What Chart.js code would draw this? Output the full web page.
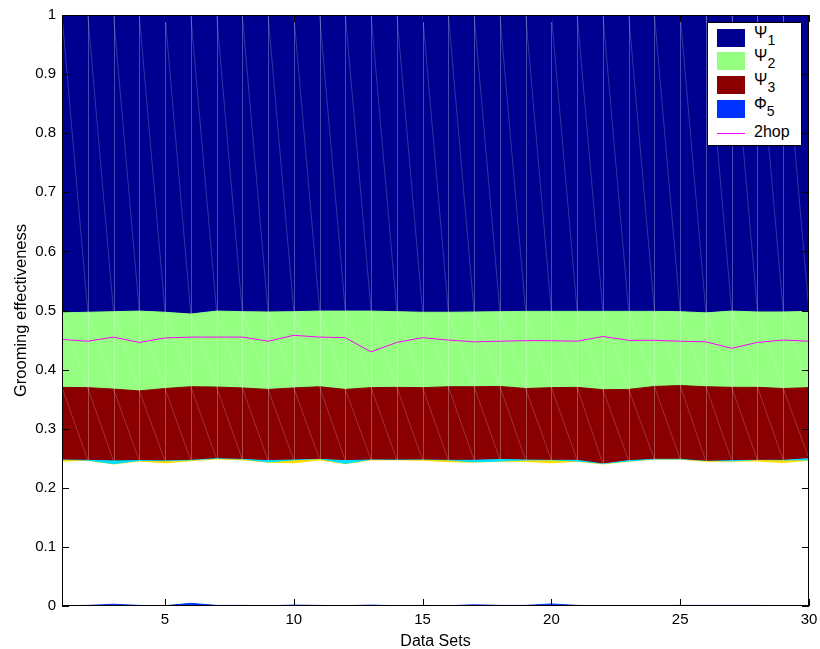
<!DOCTYPE html>
<html>
<head>
<meta charset="utf-8">
<script src="https://cdn.jsdelivr.net/npm/chart.js@4.4.1/dist/chart.umd.min.js"></script>
<style>
  body { margin: 0; background: #fff; }
  #wrap { position: relative; width: 820px; height: 649px; }
  #legend { position: absolute; left: 707px; top: 22px; width: 95px; height: 124px; background: #fff; border: 1px solid #000; box-sizing: border-box; font-family: "Liberation Sans", Arial, sans-serif; }
  .sw { position: absolute; left: 9px; width: 28px; height: 18px; }
  .lab { position: absolute; left: 46px; font-size: 16px; line-height: 16px; color: #000; white-space: nowrap; }
  .lab span { position: relative; top: 7px; font-size: 14px; }
</style>
</head>
<body>
<div id="wrap">
  <canvas id="chart" width="820" height="649"></canvas>
  <div id="legend"></div>
</div>
<script>
// x positions (data sets 1..30)
const dataSets = [1,2,3,4,5,6,7,8,9,10,11,12,13,14,15,16,17,18,19,20,21,22,23,24,25,26,27,28,29,30];
const xTicks = [5, 10, 15, 20, 25, 30];
const yTicks = [0, 0.1, 0.2, 0.3, 0.4, 0.5, 0.6, 0.7, 0.8, 0.9, 1];

// upper edge of each filled layer
const psi1 = [1,1,1,1,1,1,1,1,1,1,1,1,1,1,1,1,1,1,1,1,1,1,1,1,1,1,1,1,1,1];
const psi2 = [0.496,0.497,0.498,0.499,0.497,0.494,0.499,0.498,0.4975,0.498,
              0.499,0.499,0.499,0.498,0.497,0.497,0.4975,0.498,0.4985,0.4985,
              0.4985,0.4985,0.4985,0.4985,0.498,0.496,0.499,0.4975,0.4975,0.4985];
const psi3 = [0.370,0.3695,0.367,0.364,0.368,0.371,0.3705,0.369,0.3665,0.369,
              0.371,0.3665,0.3695,0.370,0.3695,0.371,0.371,0.3715,0.368,0.3695,
              0.370,0.366,0.3665,0.3715,0.373,0.371,0.370,0.370,0.368,0.3695];
const cyanTop = [0.247,0.2465,0.2455,0.246,0.2455,0.2465,0.2493,0.248,0.246,0.247,
                 0.248,0.246,0.247,0.247,0.247,0.2465,0.2465,0.248,0.247,0.2465,
                 0.2465,0.2403,0.246,0.2482,0.2482,0.2448,0.2459,0.2465,0.2465,0.2493];
const yellowTop = [0.2465,0.245,0.239,0.2445,0.244,0.2455,0.248,0.247,0.242,0.2455,
                   0.2475,0.2395,0.2465,0.246,0.2465,0.2455,0.242,0.2435,0.2455,0.2455,
                   0.2435,0.2395,0.2435,0.247,0.247,0.2445,0.2437,0.246,0.2455,0.2455];
const whiteTop = [0.2435,0.2445,0.2385,0.2435,0.2405,0.244,0.247,0.2455,0.2415,0.2405,
                  0.2455,0.239,0.2455,0.2455,0.245,0.2425,0.2415,0.243,0.243,0.2405,
                  0.243,0.2386,0.243,0.2465,0.2465,0.243,0.2432,0.2437,0.241,0.245];
const phi5 = [0.0005,0.001,0.003,0.001,0.0005,0.0045,0.001,0.001,0.0005,0.0015,
              0.001,0.0005,0.0015,0.0005,0.001,0.0005,0.002,0.001,0.001,0.0035,
              0.001,0.0005,0.0005,0.0005,0.001,0.001,0.001,0.001,0.0005,0.0005];
const twoHop = [0.451,0.448,0.455,0.446,0.4535,0.455,0.455,0.455,0.448,0.458,
                0.455,0.454,0.430,0.446,0.454,0.450,0.447,0.448,0.449,0.449,
                0.448,0.456,0.4495,0.4495,0.448,0.447,0.436,0.446,0.450,0.448];

const legendItems = [
  { html: 'Ψ<span>1</span>', color: '#000090', type: 'box' },
  { html: 'Ψ<span>2</span>', color: '#94ff80', type: 'box' },
  { html: 'Ψ<span>3</span>', color: '#8a0000', type: 'box' },
  { html: 'Φ<span>5</span>', color: '#0033ff', type: 'box' },
  { html: '2hop', color: '#ff00ff', type: 'line' }
];

function pts(arr) {
  return dataSets.map((x, i) => ({ x: x, y: arr[i] }));
}

function area(label, arr, color) {
  return {
    label: label,
    data: pts(arr),
    backgroundColor: color,
    borderColor: color,
    borderWidth: 1,
    pointRadius: 0,
    fill: 'origin',
    tension: 0
  };
}

// faint mesh lines like the matlab render, and the axes box with inward ticks
const framePlugin = {
  id: 'frame',
  beforeDatasetDraw(chart, args) {
    if (args.index !== 0) return;
    const ctx = chart.ctx, xs = chart.scales.x, ys = chart.scales.y, a = chart.chartArea;
    ctx.save();
    ctx.beginPath();
    ctx.rect(a.left, a.top, a.right - a.left, a.bottom - a.top);
    ctx.clip();
    ctx.lineWidth = 1;
    ctx.strokeStyle = 'rgba(255,255,255,0.28)';
    dataSets.forEach((x, i) => {
      const px = Math.round(xs.getPixelForValue(x)) + 0.5;
      ctx.beginPath();
      ctx.moveTo(px, a.top);
      ctx.lineTo(px, ys.getPixelForValue(cyanTop[i]));
      ctx.stroke();
    });
    ctx.strokeStyle = 'rgba(255,255,255,0.2)';
    [[psi1, psi2], [psi2, psi3], [psi3, cyanTop]].forEach(b => {
      for (let i = 0; i < dataSets.length - 1; i++) {
        ctx.beginPath();
        ctx.moveTo(xs.getPixelForValue(dataSets[i]), ys.getPixelForValue(b[0][i]));
        ctx.lineTo(xs.getPixelForValue(dataSets[i + 1]), ys.getPixelForValue(b[1][i + 1]));
        ctx.stroke();
      }
    });
    ctx.restore();
  },
  afterDraw(chart) {
    const ctx = chart.ctx, xs = chart.scales.x, ys = chart.scales.y, a = chart.chartArea;
    ctx.save();
    ctx.strokeStyle = '#000';
    ctx.lineWidth = 1;
    ctx.strokeRect(Math.round(a.left) + 0.5, Math.round(a.top) + 0.5,
                   Math.round(a.right - a.left) - 1, Math.round(a.bottom - a.top) - 1);
    ctx.beginPath();
    yTicks.forEach(v => {
      const py = Math.round(ys.getPixelForValue(v)) + 0.5;
      ctx.moveTo(a.left, py); ctx.lineTo(a.left + 7, py);
      ctx.moveTo(a.right, py); ctx.lineTo(a.right - 7, py);
    });
    xTicks.forEach(v => {
      const px = Math.round(xs.getPixelForValue(v)) + 0.5;
      ctx.moveTo(px, a.bottom); ctx.lineTo(px, a.bottom - 7);
      ctx.moveTo(px, a.top); ctx.lineTo(px, a.top + 7);
    });
    ctx.stroke();
    ctx.restore();
  }
};

Chart.defaults.font.family = '"Liberation Sans", Arial, sans-serif';
Chart.defaults.font.size = 15;
Chart.defaults.color = '#000';

new Chart(document.getElementById('chart'), {
  type: 'line',
  data: {
    datasets: [
      {
        label: '2hop',
        data: pts(twoHop),
        borderColor: '#ff00ff',
        borderWidth: 1,
        pointRadius: 0,
        fill: false,
        tension: 0
      },
      area('Φ5', phi5, '#0033ff'),
      area('white', whiteTop, '#ffffff'),
      area('yellow', yellowTop, '#ffdd00'),
      area('cyan', cyanTop, '#00e0ff'),
      area('Ψ3', psi3, '#8a0000'),
      area('Ψ2', psi2, '#94ff80'),
      area('Ψ1', psi1, '#000090')
    ]
  },
  options: {
    responsive: false,
    animation: false,
    devicePixelRatio: 1,
    layout: { padding: { top: 15, right: 11, left: 0, bottom: 0 } },
    plugins: { legend: { display: false }, tooltip: { enabled: false } },
    scales: {
      x: {
        type: 'linear',
        min: 1,
        max: 30,
        afterBuildTicks: s => { s.ticks = xTicks.map(v => ({ value: v })); },
        afterFit: s => { s.height = 43; s.paddingLeft = 0; s.paddingRight = 0; },
        grid: { display: false, drawTicks: false },
        border: { display: false },
        ticks: { padding: 5, maxRotation: 0, autoSkip: false },
        title: { display: true, text: 'Data Sets', font: { size: 16 }, padding: { top: 0, bottom: -2 } }
      },
      y: {
        min: 0,
        max: 1,
        afterBuildTicks: s => { s.ticks = yTicks.map(v => ({ value: v })); },
        afterFit: s => { s.width = 62; },
        grid: { display: false, drawTicks: false },
        border: { display: false },
        ticks: { padding: 6, callback: v => String(+v.toFixed(1)) },
        title: { display: true, text: 'Grooming effectiveness', font: { size: 16.5 }, padding: { top: 12, bottom: 0 } }
      }
    }
  },
  plugins: [framePlugin]
});

// legend inside the axes, top right
const legend = document.getElementById('legend');
legendItems.forEach((it, i) => {
  const cy = 14.5 + i * 23.8;
  const sw = document.createElement('div');
  sw.className = 'sw';
  if (it.type === 'box') {
    sw.style.top = (cy - 9) + 'px';
    sw.style.background = it.color;
  } else {
    sw.style.top = Math.round(cy) + 'px';
    sw.style.height = '1px';
    sw.style.background = it.color;
  }
  legend.appendChild(sw);
  const lab = document.createElement('div');
  lab.className = 'lab';
  lab.innerHTML = it.html;
  lab.style.top = (it.type === 'box' ? cy - 13 : cy - 9) + 'px';
  legend.appendChild(lab);
});
</script>
</body>
</html>
